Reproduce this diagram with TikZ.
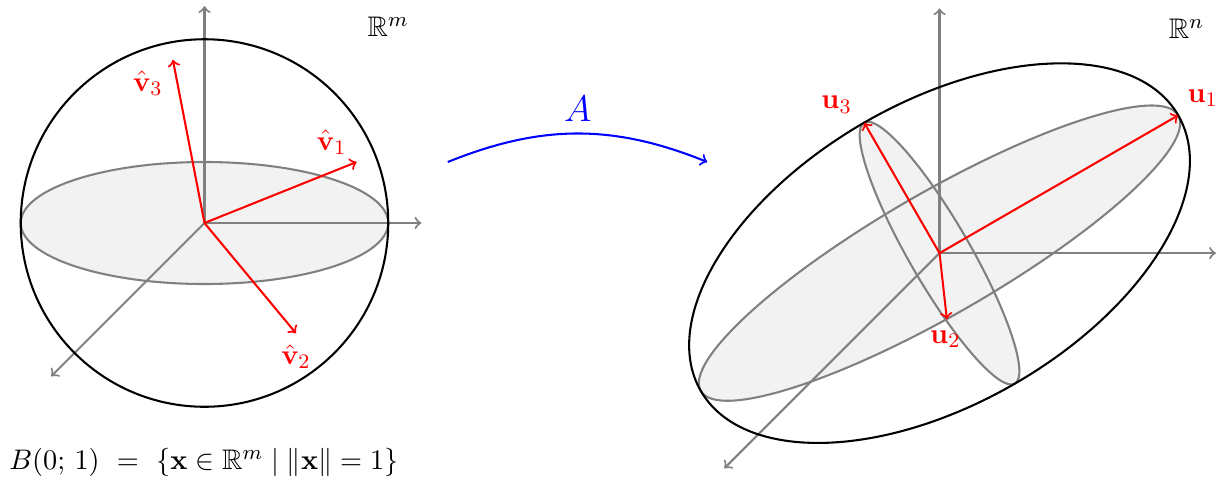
\documentclass[tikz,border=0pt,11pt]{standalone}
\usepackage{amsmath,amssymb}
\usetikzlibrary{positioning, calc}

\begin{document}
\begin{tikzpicture}[thick,
  axis/.style={->, gray},
  vec/.style={->, red},
  plane/.style={gray, fill=gray!10},
  lbl/.style={red}]
  \useasboundingbox (-2.782,-3.497) rectangle (13.884,3.034);

  % unit sphere in R^m
  \coordinate (O1) at (0,0);
  \coordinate (x1) at (2.95,0);
  \coordinate (y1) at (0,2.95);
  \coordinate (z1) at (225:2.95);
  \coordinate (v1) at (2.07,0.83);
  \coordinate (v2) at (1.245,-1.50);
  \coordinate (v3) at (-0.43,2.22);

  \draw[plane] (O1) ellipse (2.5 and 0.83);
  \draw[axis] (O1) -- (x1);
  \draw[axis] (O1) -- (y1);
  \draw[axis] (O1) -- (z1);
  \draw (O1) circle (2.5);
  \draw[vec] (O1) -- (v1);
  \draw[vec] (O1) -- (v2);
  \draw[vec] (O1) -- (v3);

  \node[lbl] (v1lbl) at (1.73,1.10) {$\hat{\mathbf{v}}_1$};
  \node[lbl] (v2lbl) at (1.245,-1.82) {$\hat{\mathbf{v}}_2$};
  \node[lbl] (v3lbl) at (-0.77,1.90) {$\hat{\mathbf{v}}_3$};
  \node (Rm) at (2.50,2.67) {$\mathbb{R}^m$};
  \node[anchor=west, inner sep=0pt] (ball) at (-2.67,-3.26)
    {$B(0;\,1)\ =\ \{\mathbf{x}\in\mathbb{R}^m \mid \|\mathbf{x}\|=1\}$};

  % the map A
  \coordinate (mapS) at (3.31,0.83);
  \coordinate (mapE) at (6.84,0.83);
  \draw[->, blue] (mapS) to[bend left=22] (mapE);
  \node[blue] (Albl) at (5.08,1.56) {\Large $A$};

  % image ellipsoid in R^n
  \coordinate (O2) at (10,-0.41);
  \coordinate (x2) at ($(O2)+(3.76,0)$);
  \coordinate (y2) at ($(O2)+(0,3.33)$);
  \coordinate (z2) at ($(O2)+(225:4.14)$);
  \coordinate (u1) at ($(O2)+(30:3.75)$);
  \coordinate (u2) at ($(O2)+(0.1,-0.9)$);
  \coordinate (u3) at ($(O2)+(120:2.05)$);

  \fill[gray!10, rotate around={30:(O2)}] (O2) ellipse (3.75 and 0.83);
  \fill[gray!10, rotate around={120:(O2)}] (O2) ellipse (2.05 and 0.415);
  \draw[gray, rotate around={30:(O2)}] (O2) ellipse (3.75 and 0.83);
  \draw[gray, rotate around={120:(O2)}] (O2) ellipse (2.05 and 0.415);
  \draw[axis] (O2) -- (x2);
  \draw[axis] (O2) -- (y2);
  \draw[axis] (O2) -- (z2);
  \draw[rotate around={30:(O2)}] (O2) ellipse (3.75 and 2.05);
  \draw[vec] (O2) -- (u1);
  \draw[vec] (O2) -- (u2);
  \draw[vec] (O2) -- (u3);

  \node[lbl] (u1lbl) at (13.58,1.70) {$\mathbf{u}_1$};
  \node[lbl] (u2lbl) at (10.08,-1.58) {$\mathbf{u}_2$};
  \node[lbl] (u3lbl) at (8.60,1.61) {$\mathbf{u}_3$};
  \node (Rn) at (13.36,2.64) {$\mathbb{R}^n$};
\end{tikzpicture}
\end{document}
